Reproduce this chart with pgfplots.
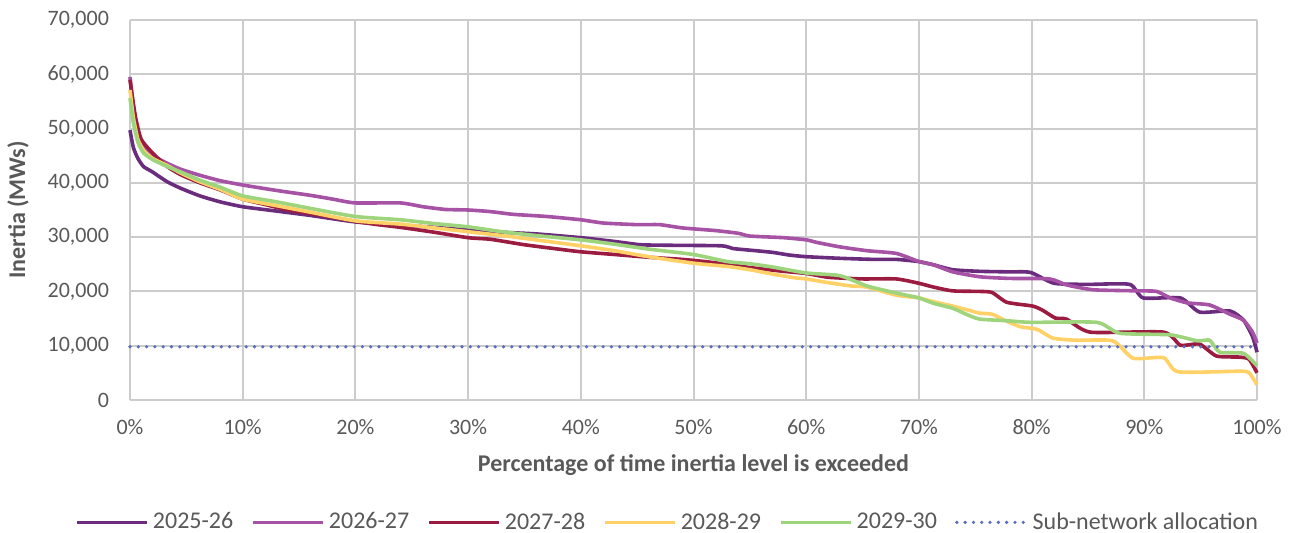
\documentclass[border=0pt]{standalone}
\usepackage{fontspec}
\setmainfont{Carlito}
\usepackage{pgfplots}
\usepackage{pgfplotstable}
\pgfplotsset{compat=1.18}
\definecolor{cA}{HTML}{6B2C7D}
\definecolor{cB}{HTML}{A652A5}
\definecolor{cC}{HTML}{9C1B40}
\definecolor{cD}{HTML}{FFD166}
\definecolor{cE}{HTML}{9ED47C}
\definecolor{cF}{HTML}{5A6EBE}
\definecolor{txt}{HTML}{595959}
\definecolor{gridc}{HTML}{CCCCCC}

\pgfplotstableread{
x y
0 49700
0.3 46500
0.7 44500
1.2 43000
2 42000
3.3 40200
4.5 39000
6.2 37600
8 36500
10 35600
13 34800
16 34000
20 32800
24 32200
27 31800
30 31300
33 30900
36 30600
40 29900
43 29200
45.3 28600
48 28500
52.5 28400
53.5 27900
55 27600
57 27200
58.5 26700
60 26400
63 26100
66 25900
68 25900
70 25500
71.3 24900
73 24000
75.4 23700
78 23600
79.9 23500
82 21500
85 21300
88.7 21300
89.9 18800
93.2 18800
94.9 16200
97.6 16400
98.8 14700
99.6 11700
100 8800
}\tA

\pgfplotstableread{
x y
0 59500
0.3 54000
0.7 49000
1.2 46500
2 45000
3.3 43600
4.5 42500
6.2 41400
8 40400
10 39600
13 38600
16 37700
18 37000
20 36300
24 36300
26 35600
28 35100
30 35000
32 34700
34 34200
37 33800
40 33200
42 32600
45 32300
47 32300
49 31700
52 31200
54 30700
55 30200
58 29900
60 29500
61 29000
63 28200
65.4 27500
68 27000
70 25500
71.3 24900
73 23600
75.4 22700
78 22400
81.6 22300
83.1 21200
85.5 20300
89.6 20100
91.1 20000
92.3 18800
93.8 17900
95.8 17500
97.6 15800
98.8 14700
99.6 12500
100 10500
}\tB

\pgfplotstableread{
x y
0 59000
0.2 56000
0.5 52000
1 48000
2 45500
3.3 43000
4.5 41500
6.2 40000
8 38700
10 37000
12 36000
14 35000
17 34000
20 32900
22 32300
24 31800
27 30900
30 29900
32 29600
35 28600
38 27800
40 27300
43 26800
46 26300
49 25900
51 25500
53 25000
55 24400
58 23700
60 23300
62 22600
65 22300
68 22300
70 21500
71.3 20800
73 20100
75.4 20000
76.5 19800
77.8 18000
80.1 17300
81 16500
82.1 15100
83.1 14900
85.2 12500
91.7 12500
93.2 10100
94.9 10300
96.4 8100
98.5 7900
99.3 7500
100 5000
}\tC

\pgfplotstableread{
x y
0 57100
0.3 52000
0.7 48000
1.2 46000
2 44500
3.3 43200
4.5 41800
6.2 40200
8 38800
10 37000
13 35800
16 34600
20 33000
24 32400
27 31700
30 31000
33 30300
36 29500
40 28400
43 27500
46 26400
50 25200
53 24600
55 24000
57 23200
59 22500
60 22300
62 21600
64 21000
65.4 20800
68 19300
70 18800
71.3 18100
73 17300
74.3 16600
75.4 16000
76.5 15800
77.8 14500
79 13500
80.5 13000
81.9 11400
84 11000
87.2 10900
89 7700
91.7 7800
93 5200
98.5 5300
99.3 5000
100 2800
}\tD

\pgfplotstableread{
x y
0 55600
0.3 51000
0.7 47500
1.2 45500
2 44300
3.3 43000
4.5 42000
6.2 40500
8 39200
10 37600
13 36500
16 35300
20 33800
24 33200
27 32500
30 31900
33 31000
36 30300
40 29500
43 28700
46 27800
50 26800
53 25500
55 25100
57 24500
60 23400
63 22900
65.4 21000
68 19700
70 18800
71.3 17800
73 16900
74.3 15700
75.4 14900
77.8 14600
80 14300
85.8 14300
87.8 12300
92.3 12000
94.7 10900
95.8 11000
96.7 8800
98.8 8600
100 6300
}\tE

\pgfplotstableread{
x y
0 9800
100 9800
}\tF

\begin{document}
\begin{tikzpicture}
\useasboundingbox (-65pt,-66.5pt) rectangle (582pt,200pt);
\begin{axis}[
  scale only axis,
  width=563.5pt, height=190pt,
  xmin=0, xmax=100, ymin=0, ymax=70000,
  xtick={0,10,...,100},
  xticklabels={0\%,10\%,20\%,30\%,40\%,50\%,60\%,70\%,80\%,90\%,100\%},
  ytick={0,10000,...,70000},
  scaled y ticks=false,
  /pgf/number format/assume math mode=true,
  /pgf/number format/1000 sep={,},
  major tick length=0pt,
  axis line style={draw=none},
  grid=major,
  major grid style={draw=gridc, line width=1pt},
  font=\fontsize{11}{13}\selectfont,
  tick label style={color=txt, font=\fontsize{11}{13}\selectfont},
  xticklabel style={yshift=-6pt},
  yticklabel style={xshift=-7pt},
  xlabel={\bfseries Percentage of time inertia level is exceeded},
  ylabel={\bfseries Inertia (MWs)},
  label style={color=txt, font=\fontsize{12}{14}\selectfont},
  xlabel style={at={(axis description cs:0.5,-0.171)}, anchor=center},
  ylabel style={at={(axis description cs:-0.0994,0.5)}, anchor=center},
  clip=false,
  legend columns=6,
  legend style={at={(axis description cs:0.478,-0.322)}, anchor=center, draw=none,
    font=\fontsize{12}{14}\selectfont, text=txt,
    /tikz/every even column/.append style={column sep=7pt}},
  legend image code/.code={\draw[#1] (0pt,0pt) -- (35pt,0pt);},
  every axis plot/.append style={line width=1.8pt, smooth, tension=0.35},
]
\addplot[cA] table[x=x,y=y] {\tA};
\addlegendentry{2025-26}
\addplot[cB] table[x=x,y=y] {\tB};
\addlegendentry{2026-27}
\addplot[cC] table[x=x,y=y] {\tC};
\addlegendentry{2027-28}
\addplot[cD] table[x=x,y=y] {\tD};
\addlegendentry{2028-29}
\addplot[cE] table[x=x,y=y] {\tE};
\addlegendentry{2029-30}
\addplot[cF, line width=1.8pt, line cap=round, dash pattern=on 0pt off 4.15pt, sharp plot] table[x=x,y=y] {\tF};
\addlegendentry{Sub-network allocation}
\end{axis}
\end{tikzpicture}
\end{document}
